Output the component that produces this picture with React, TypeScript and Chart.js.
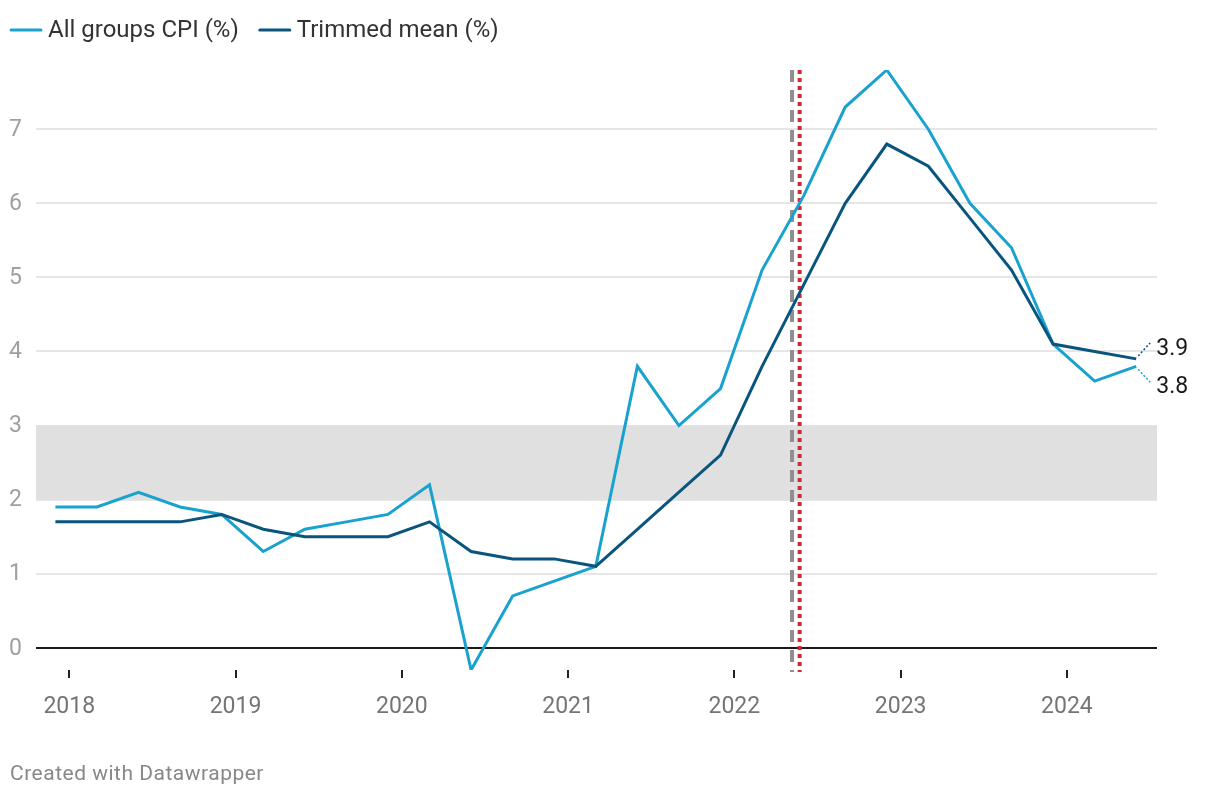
import React, { useEffect, useRef } from "react";
import { Chart, registerables } from "chart.js";

Chart.register(...registerables);

// ---- Data ----
const quarters = [
  "2017-12", "2018-03", "2018-06", "2018-09", "2018-12",
  "2019-03", "2019-06", "2019-09", "2019-12",
  "2020-03", "2020-06", "2020-09", "2020-12",
  "2021-03", "2021-06", "2021-09", "2021-12",
  "2022-03", "2022-06", "2022-09", "2022-12",
  "2023-03", "2023-06", "2023-09", "2023-12",
  "2024-03", "2024-06",
];
const cpiValues = [
  1.9, 1.9, 2.1, 1.9, 1.8,
  1.3, 1.6, 1.7, 1.8,
  2.2, -0.3, 0.7, 0.9,
  1.1, 3.8, 3.0, 3.5,
  5.1, 6.1, 7.3, 7.8,
  7.0, 6.0, 5.4, 4.1,
  3.6, 3.8,
];
const trimmedValues = [
  1.7, 1.7, 1.7, 1.7, 1.8,
  1.6, 1.5, 1.5, 1.5,
  1.7, 1.3, 1.2, 1.2,
  1.1, 1.6, 2.1, 2.6,
  3.8, 4.9, 6.0, 6.8,
  6.5, 5.8, 5.1, 4.1,
  4.0, 3.9,
];
const seriesNames = ["All groups CPI (%)", "Trimmed mean (%)"];
const yearLabels = ["2018", "2019", "2020", "2021", "2022", "2023", "2024"];
const yTickValues = [0, 1, 2, 3, 4, 5, 6, 7];
const targetBand = [2, 3];
const eventDates = ["2022-05-06", "2022-05-23"]; // gray dashed, red dotted
const endLabels = ["3.9", "3.8"];
const footerText = "Created with Datawrapper";

const CPI_COLOR = "#1aa2cf";
const TM_COLOR = "#0a557e";

// months since Jan 2018
function monthIndex(s: string): number {
  const parts = s.split("-").map(Number);
  const y = parts[0];
  const m = parts[1];
  const d = parts[2] || 1;
  const daysInMonth = new Date(y, m, 0).getDate();
  return (y - 2018) * 12 + (m - 1) + (d - 1) / daysInMonth;
}

export default function App() {
  const ref = useRef<HTMLCanvasElement | null>(null);

  useEffect(() => {
    document.body.style.margin = "0";
    const canvas = ref.current;
    if (!canvas) return;
    Chart.defaults.font.family = "Roboto";

    const xs = quarters.map(monthIndex);
    const yearTicks = yearLabels.map((y) => monthIndex(y + "-01"));

    const overlay = {
      id: "overlay",
      beforeDatasetsDraw(chart: any) {
        const { ctx, chartArea, scales } = chart;
        const y = scales.y;
        const x = scales.x;
        ctx.save();
        // target band
        const top = y.getPixelForValue(targetBand[1]);
        const bot = y.getPixelForValue(targetBand[0]);
        ctx.fillStyle = "#e0e0e0";
        ctx.fillRect(chartArea.left, top, chartArea.right - chartArea.left, bot - top);
        // event lines
        const gx = x.getPixelForValue(monthIndex(eventDates[0]));
        ctx.strokeStyle = "#8e8e8e";
        ctx.lineWidth = 4;
        ctx.setLineDash([12, 8]);
        ctx.beginPath();
        ctx.moveTo(gx, chartArea.top);
        ctx.lineTo(gx, chartArea.bottom + 2);
        ctx.stroke();
        const rx = x.getPixelForValue(monthIndex(eventDates[1]));
        ctx.strokeStyle = "#cf2a2e";
        ctx.lineWidth = 4;
        ctx.setLineDash([4, 4]);
        ctx.beginPath();
        ctx.moveTo(rx, chartArea.top);
        ctx.lineTo(rx, chartArea.bottom + 2);
        ctx.stroke();
        ctx.restore();
      },
      afterDraw(chart: any) {
        const { ctx, scales } = chart;
        const x = scales.x;
        const y = scales.y;
        ctx.save();
        // legend
        ctx.font = "24px Roboto";
        ctx.textBaseline = "middle";
        ctx.fillStyle = "#333333";
        ctx.lineCap = "round";
        ctx.lineWidth = 3;
        let lx = 11;
        const ly = 30;
        const colors = [CPI_COLOR, TM_COLOR];
        seriesNames.forEach((name, i) => {
          ctx.strokeStyle = colors[i];
          ctx.beginPath();
          ctx.moveTo(lx, ly);
          ctx.lineTo(lx + 30, ly);
          ctx.stroke();
          ctx.fillText(name, lx + 37, ly + 1);
          lx = lx + 37 + ctx.measureText(name).width + 21;
        });
        // end labels
        const lastIdx = xs.length - 1;
        const px = x.getPixelForValue(xs[lastIdx]);
        const pTm = y.getPixelForValue(trimmedValues[lastIdx]);
        const pCpi = y.getPixelForValue(cpiValues[lastIdx]);
        ctx.lineWidth = 1.5;
        ctx.lineCap = "butt";
        ctx.setLineDash([2, 2]);
        ctx.strokeStyle = TM_COLOR;
        ctx.beginPath();
        ctx.moveTo(px + 2, pTm - 3);
        ctx.lineTo(px + 14, pTm - 16);
        ctx.stroke();
        ctx.strokeStyle = CPI_COLOR;
        ctx.beginPath();
        ctx.moveTo(px + 2, pCpi + 3);
        ctx.lineTo(px + 14, pCpi + 16);
        ctx.stroke();
        ctx.setLineDash([]);
        ctx.fillStyle = "#1a1a1a";
        ctx.font = "23px Roboto";
        ctx.textAlign = "left";
        ctx.fillText(endLabels[0], px + 20, pTm - 10);
        ctx.fillText(endLabels[1], px + 20, pCpi + 21);
        // footer
        ctx.font = "21px Roboto";
        (ctx as any).letterSpacing = "0.5px";
        ctx.fillStyle = "#888888";
        ctx.textBaseline = "alphabetic";
        ctx.fillText(footerText, 10, 780);
        (ctx as any).letterSpacing = "0px";
        ctx.restore();
      },
    };

    const chart = new Chart(canvas, {
      type: "line",
      data: {
        datasets: [
          {
            label: seriesNames[0],
            data: xs.map((v, i) => ({ x: v, y: cpiValues[i] })),
            borderColor: CPI_COLOR,
            borderWidth: 3,
            pointRadius: 0,
            tension: 0,
            order: 2,
          },
          {
            label: seriesNames[1],
            data: xs.map((v, i) => ({ x: v, y: trimmedValues[i] })),
            borderColor: TM_COLOR,
            borderWidth: 3,
            pointRadius: 0,
            tension: 0,
            order: 1,
          },
        ],
      },
      options: {
        responsive: false,
        animation: false,
        devicePixelRatio: 1,
        layout: { padding: { top: 70, right: 63, left: 0, bottom: 0 } },
        plugins: {
          legend: { display: false },
          tooltip: { enabled: false },
        },
        scales: {
          x: {
            type: "linear",
            min: -2.4,
            max: 78.5,
            border: { display: false },
            grid: {
              drawOnChartArea: false,
              color: "#222222",
              lineWidth: 2,
              tickLength: 8,
            },
            afterBuildTicks: (scale: any) => {
              scale.ticks = yearTicks.map((v) => ({ value: v }));
            },
            afterFit: (scale: any) => {
              scale.height = 126;
            },
            ticks: {
              autoSkip: false,
              maxRotation: 0,
              padding: 15,
              color: "#757575",
              font: { size: 23 },
              callback: (v: any) => yearLabels[yearTicks.indexOf(v)],
            },
          },
          y: {
            type: "linear",
            min: -0.3,
            max: 7.8,
            border: { display: false },
            grid: {
              drawTicks: false,
              color: (c: any) => (c.tick && c.tick.value === 0 ? "#1a1a1a" : "#e6e6e6"),
              lineWidth: 2,
            },
            afterBuildTicks: (scale: any) => {
              scale.ticks = yTickValues.map((v) => ({ value: v }));
            },
            afterFit: (scale: any) => {
              scale.width = 36;
            },
            ticks: {
              padding: 14,
              labelOffset: 1,
              color: "#a0a0a0",
              font: { size: 23 },
              callback: (v: any) => String(v),
            },
          },
        },
      },
      plugins: [overlay],
    });

    return () => chart.destroy();
  }, []);

  return (
    <div style={{ width: 1220, height: 796 }}>
      <canvas ref={ref} width={1220} height={796} style={{ display: "block" }} />
    </div>
  );
}
